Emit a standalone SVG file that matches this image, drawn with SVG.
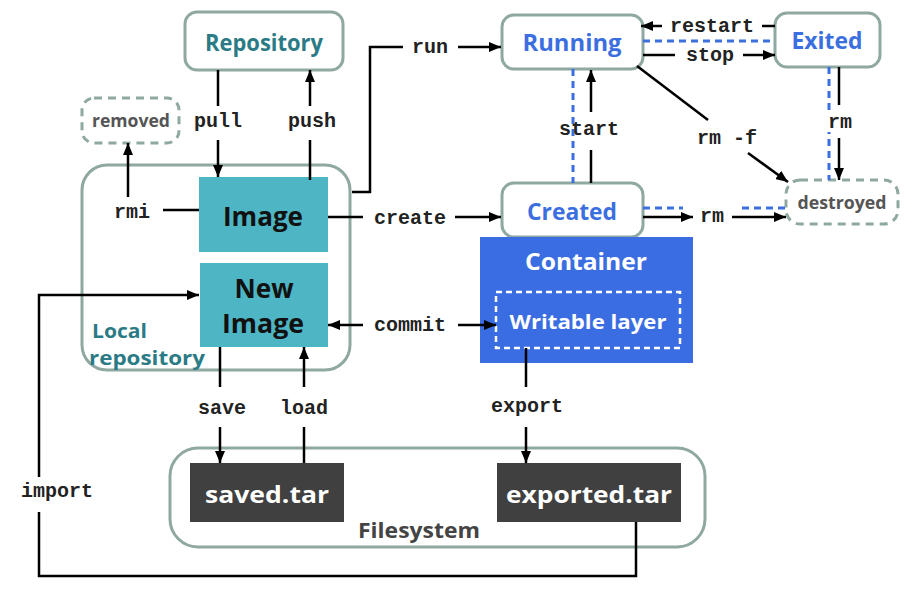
<svg xmlns="http://www.w3.org/2000/svg" width="918" height="593" viewBox="0 0 918 593">
<defs>
<marker id="ah" viewBox="0 0 12 10" refX="12" refY="5" markerWidth="12" markerHeight="10" markerUnits="userSpaceOnUse" orient="auto-start-reverse">
<path d="M0,0 L12,5 L0,10 z" fill="#000"/>
</marker>
<style>
.box{fill:#fff;stroke:#8fa8a1;stroke-width:3}
.dbox{fill:#fff;stroke:#8fa8a1;stroke-width:3;stroke-dasharray:8 6}
.teal{fill:#4db5c3}
.dark{fill:#404040}
.t{font-family:"Open Sans","Liberation Sans",sans-serif;font-weight:700;text-anchor:middle}
.tl{font-family:"Open Sans","Liberation Sans",sans-serif;font-weight:700}
.lbl{font-family:"Liberation Mono","DejaVu Sans Mono",monospace;font-weight:bold;font-size:20px;text-anchor:middle;fill:#222}
.c{fill:none;stroke:#000;stroke-width:2.5}
.a{fill:none;stroke:#000;stroke-width:2.5;marker-end:url(#ah)}
.bd{fill:none;stroke:#3b6fe0;stroke-width:3;stroke-dasharray:7 5}
</style>
</defs>
<rect width="918" height="593" fill="#fff"/>

<g id="local-repository">
<rect class="box" x="82" y="165" width="268" height="205" rx="25"/>
<text class="tl" x="92" y="338" font-size="20" fill="#2b7b86" textLength="55" lengthAdjust="spacingAndGlyphs">Local</text>
<text class="tl" x="89" y="365" font-size="20" fill="#2b7b86" textLength="116" lengthAdjust="spacingAndGlyphs">repository</text>
</g>
<g id="filesystem">
<rect class="box" x="170" y="448" width="535" height="99" rx="28"/>
<text class="t" x="419" y="538" font-size="22" font-weight="600" fill="#444" textLength="122" lengthAdjust="spacingAndGlyphs">Filesystem</text>
</g>

<g id="repository">
<rect class="box" x="185" y="12" width="158" height="58" rx="12"/>
<text class="t" x="264" y="51" font-size="23" fill="#2b7b86" textLength="118" lengthAdjust="spacingAndGlyphs">Repository</text>
</g>
<g id="removed">
<rect class="dbox" x="82" y="98" width="97" height="45" rx="12"/>
<text class="t" x="131" y="127" font-size="18" font-weight="600" fill="#555" textLength="78" lengthAdjust="spacingAndGlyphs">removed</text>
</g>
<g id="image">
<rect class="teal" x="199" y="177" width="129" height="75"/>
<text class="t" x="263" y="226" font-size="27" fill="#111" textLength="80" lengthAdjust="spacingAndGlyphs">Image</text>
</g>
<g id="new-image">
<rect class="teal" x="200" y="263" width="128" height="84"/>
<text class="t" x="264" y="298" font-size="26" fill="#111" textLength="59" lengthAdjust="spacingAndGlyphs">New</text>
<text class="t" x="263" y="333" font-size="26" fill="#111" textLength="82" lengthAdjust="spacingAndGlyphs">Image</text>
</g>
<g id="running">
<rect class="box" x="502" y="15" width="141" height="54" rx="12"/>
<text class="t" x="572" y="51" font-size="23" fill="#3b6fe0" textLength="99" lengthAdjust="spacingAndGlyphs">Running</text>
</g>
<g id="exited">
<rect class="box" x="775" y="13" width="105" height="54" rx="12"/>
<text class="t" x="827" y="49" font-size="23" fill="#3b6fe0" textLength="71" lengthAdjust="spacingAndGlyphs">Exited</text>
</g>
<g id="created">
<rect class="box" x="502" y="183" width="141" height="54" rx="12"/>
<text class="t" x="572" y="220" font-size="23" fill="#3b6fe0" textLength="90" lengthAdjust="spacingAndGlyphs">Created</text>
</g>
<g id="destroyed">
<rect class="dbox" x="786" y="180" width="112" height="44" rx="14"/>
<text class="t" x="842" y="209" font-size="18" font-weight="600" fill="#555" textLength="89" lengthAdjust="spacingAndGlyphs">destroyed</text>
</g>
<g id="container">
<rect x="480" y="237" width="213" height="126" fill="#3b6de2"/>
<text class="t" x="586" y="270" font-size="24" fill="#fff" textLength="122" lengthAdjust="spacingAndGlyphs">Container</text>
<rect x="496" y="292" width="184" height="56" fill="none" stroke="#fff" stroke-width="2.5" stroke-dasharray="6 4"/>
<text class="t" x="588" y="329" font-size="20" fill="#fff" textLength="157" lengthAdjust="spacingAndGlyphs">Writable layer</text>
</g>
<g id="saved-tar">
<rect class="dark" x="190" y="463" width="154" height="59"/>
<text class="t" x="267" y="503" font-size="24" fill="#fff" textLength="124" lengthAdjust="spacingAndGlyphs">saved.tar</text>
</g>
<g id="exported-tar">
<rect class="dark" x="497" y="463" width="184" height="59"/>
<text class="t" x="589" y="503" font-size="24" fill="#fff" textLength="166" lengthAdjust="spacingAndGlyphs">exported.tar</text>
</g>

<g id="blue-dashed">
<line class="bd" x1="643" y1="41" x2="772" y2="41"/>
<line class="bd" x1="573" y1="69" x2="573" y2="183"/>
<line class="bd" x1="829" y1="67" x2="829" y2="180"/>
<line class="bd" x1="643" y1="208" x2="683" y2="208"/>
<line class="bd" x1="742" y1="208" x2="786" y2="208"/>
</g>

<g id="connectors">
<line class="c" x1="218" y1="70" x2="218" y2="106"/>
<line class="a" x1="218" y1="140" x2="218" y2="177"/>
<line class="c" x1="310" y1="180" x2="310" y2="140"/>
<line class="a" x1="310" y1="106" x2="310" y2="70"/>
<line class="c" x1="199" y1="210" x2="163" y2="210"/>
<line class="a" x1="128" y1="197" x2="128" y2="143"/>
<polyline class="c" points="352,192 370,192 370,47 403,47"/>
<line class="a" x1="458" y1="47" x2="501" y2="47"/>
<line class="c" x1="328" y1="217" x2="363" y2="217"/>
<line class="a" x1="455" y1="217" x2="501" y2="217"/>
<line class="c" x1="591" y1="183" x2="591" y2="150"/>
<line class="a" x1="591" y1="112" x2="591" y2="70"/>
<line class="c" x1="775" y1="26" x2="762" y2="26"/>
<line class="a" x1="662" y1="26" x2="641" y2="26"/>
<line class="c" x1="643" y1="55" x2="675" y2="55"/>
<line class="a" x1="743" y1="55" x2="775" y2="55"/>
<line class="c" x1="637" y1="66" x2="708" y2="120"/>
<line class="a" x1="748" y1="153" x2="788" y2="182"/>
<line class="c" x1="839" y1="67" x2="839" y2="105"/>
<line class="a" x1="839" y1="138" x2="839" y2="180"/>
<line class="a" x1="643" y1="217" x2="693" y2="217"/>
<line class="a" x1="732" y1="217" x2="786" y2="217"/>
<line class="a" x1="363" y1="325" x2="328" y2="325"/>
<line class="a" x1="458" y1="325" x2="496" y2="325"/>
<line class="c" x1="220" y1="347" x2="220" y2="387"/>
<line class="a" x1="220" y1="427" x2="220" y2="463"/>
<line class="c" x1="304" y1="463" x2="304" y2="427"/>
<line class="a" x1="304" y1="387" x2="304" y2="347"/>
<line class="c" x1="526" y1="348" x2="526" y2="387"/>
<line class="a" x1="526" y1="427" x2="526" y2="463"/>
<polyline class="c" points="636,522 636,576 39,576 39,512"/>
<polyline class="a" points="39,477 39,295 199,295"/>
</g>

<g id="labels">
<text class="lbl" x="218" y="127">pull</text>
<text class="lbl" x="312" y="127">push</text>
<text class="lbl" x="132" y="218">rmi</text>
<text class="lbl" x="430" y="53">run</text>
<text class="lbl" x="410" y="224">create</text>
<text class="lbl" x="589" y="135">start</text>
<text class="lbl" x="712" y="32">restart</text>
<text class="lbl" x="710" y="61">stop</text>
<text class="lbl" x="727" y="144">rm -f</text>
<rect x="826" y="110" width="26" height="22" fill="#fff"/>
<text class="lbl" x="840" y="128">rm</text>
<text class="lbl" x="712" y="222">rm</text>
<text class="lbl" x="410" y="331">commit</text>
<text class="lbl" x="222" y="414">save</text>
<text class="lbl" x="304" y="414">load</text>
<text class="lbl" x="527" y="412">export</text>
<text class="lbl" x="57" y="497">import</text>
</g>
</svg>
